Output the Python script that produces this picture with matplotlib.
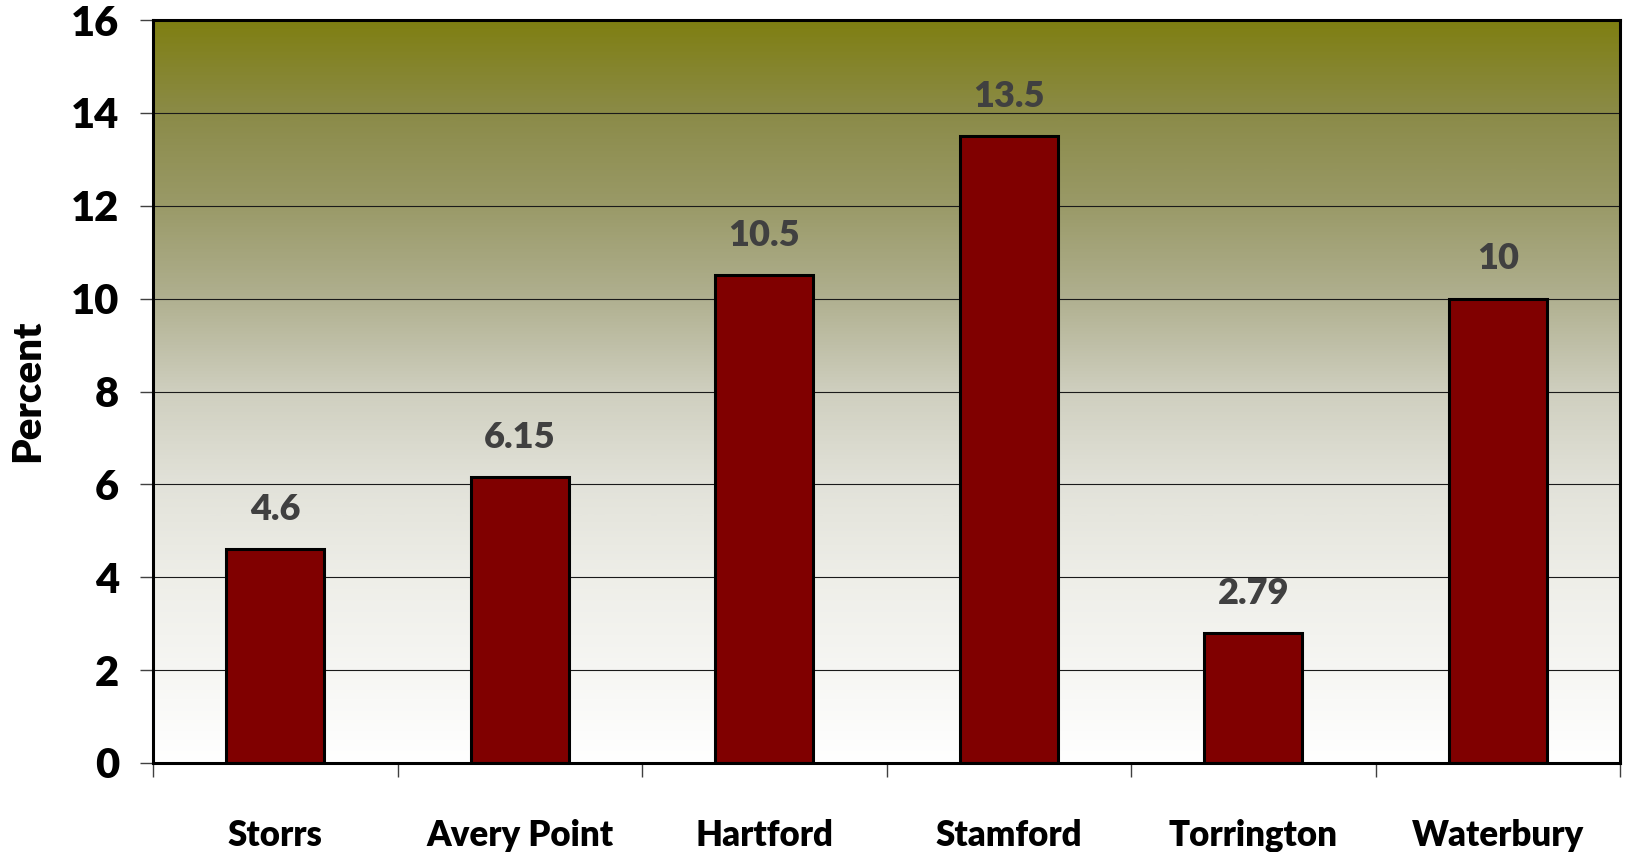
import matplotlib
matplotlib.use('Agg')
import matplotlib.pyplot as plt
from matplotlib.colors import LinearSegmentedColormap
import numpy as np

campuses = ['Storrs', 'Avery Point', 'Hartford', 'Stamford', 'Torrington', 'Waterbury']
percent = [4.6, 6.15, 10.5, 13.5, 2.79, 10.0]
value_labels = ['4.6', '6.15', '10.5', '13.5', '2.79', '10']
y_ticks = [0, 2, 4, 6, 8, 10, 12, 14, 16]

plt.rcParams['font.family'] = ['Lato', 'DejaVu Sans']
plt.rcParams['font.weight'] = 'bold'

fig = plt.figure(figsize=(16.29, 8.52), dpi=100)
ax = fig.add_axes([153 / 1629, 1 - 763 / 852, 1467 / 1629, 743 / 852])

# background gradient, white at the bottom to olive at the top
stops = [(0.0, '#ffffff'), (0.125, '#f6f6f3'), (0.25, '#eeeee8'), (0.375, '#e2e2d9'),
         (0.5, '#cfcfbf'), (0.625, '#b0b090'), (0.75, '#9a9a68'), (0.875, '#8b8b48'),
         (1.0, '#7f7f12')]
cmap = LinearSegmentedColormap.from_list('bg', stops)
grad = np.linspace(0, 1, 512).reshape(-1, 1)
ax.imshow(grad, cmap=cmap, origin='lower', aspect='auto', extent=[0, 1, 0, 1],
          transform=ax.transAxes, zorder=0)

x = np.arange(len(campuses))
bars = ax.bar(x, percent, width=0.4, color='#800000', edgecolor='black',
              linewidth=2.2, zorder=3)

for xi, v, lab in zip(x, percent, value_labels):
    ax.annotate(lab, (xi, v), xytext=(0, 21), textcoords='offset points',
                ha='center', va='baseline', fontsize=26, fontweight='heavy',
                color='#404040', zorder=4)

ax.set_xlim(-0.5, 5.5)
ax.set_ylim(0, 16)
ax.set_yticks(y_ticks)
ax.set_yticklabels([str(t) for t in y_ticks], fontsize=30, fontweight='heavy')
ax.yaxis.grid(True, color='#1a1a1a', linewidth=0.8, zorder=1)
ax.set_axisbelow(True)

ax.set_xticks(np.arange(-0.5, 6.0, 1.0))
ax.set_xticklabels([])
ax.set_xticks(x, minor=True)
ax.set_xticklabels(campuses, minor=True, fontsize=25, fontweight='heavy')
ax.tick_params(axis='x', which='major', length=10, width=1, color='#404040', direction='out')
ax.tick_params(axis='x', which='minor', length=0, pad=40)
ax.tick_params(axis='y', length=9.5, width=1, color='#404040', pad=15)

for s in ax.spines.values():
    s.set_linewidth(2.2)
    s.set_color('black')
    s.set_zorder(5)

fig.text(28 / 1629, 1 - 391 / 852, 'Percent', rotation=90, ha='center', va='center',
         fontsize=29, fontweight='heavy')

fig.savefig('out.png', dpi=100)
